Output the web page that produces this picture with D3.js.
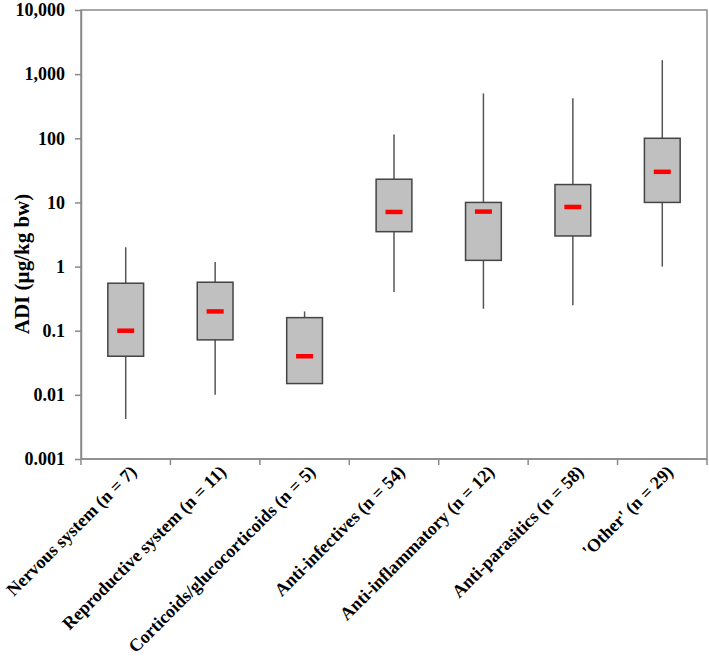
<!DOCTYPE html>
<html><head><meta charset="utf-8">
<script src="https://cdn.jsdelivr.net/npm/d3@7"></script>
<style>body{margin:0;background:#fff}</style>
</head><body>
<svg id="c" width="709" height="662"></svg>
<script>
const categories = ["Nervous system (n = 7)","Reproductive system (n = 11)","Corticoids/glucocorticoids (n = 5)","Anti-infectives (n = 54)","Anti-inflammatory (n = 12)","Anti-parasitics (n = 58)","'Other' (n = 29)"];
const whiskerLow  = [0.0042, 0.010, 0.015, 0.40, 0.22, 0.25, 1.0];
const q1          = [0.040, 0.072, 0.015, 3.5, 1.25, 3.0, 10];
const median      = [0.10, 0.20, 0.040, 7.1, 7.2, 8.5, 30];
const q3          = [0.55, 0.57, 0.16, 23, 10, 19, 100];
const whiskerHigh = [2.0, 1.18, 0.20, 115, 500, 420, 1650];
const yTickValues = [0.001, 0.01, 0.1, 1, 10, 100, 1000, 10000];
const yTickLabels = ["0.001","0.01","0.1","1","10","100","1,000","10,000"];
const yTitle = "ADI (µg/kg bw)";

const svg = d3.select("#c");
const L = 81, R = 707, T = 10, B = 459;
const font = "'Liberation Serif','Times New Roman',serif";
const axisCol = "#8a8a8a";

const y = d3.scaleLog().domain([0.001, 10000]).range([B, T]);
const x = d3.scaleBand().domain(categories).range([L, R]).padding(0);

// frame
svg.append("rect").attr("x", L).attr("y", T).attr("width", R - L).attr("height", B - T)
  .attr("fill", "none").attr("stroke", axisCol).attr("stroke-width", 1.5);

// y axis
const ya = svg.append("g").attr("transform", `translate(${L},0)`)
  .call(d3.axisLeft(y).tickValues(yTickValues).tickSize(6).tickSizeOuter(0)
    .tickFormat((d, i) => yTickLabels[i]));
ya.select(".domain").attr("stroke", axisCol).attr("stroke-width", 1.5);
ya.selectAll(".tick line").attr("stroke", axisCol).attr("stroke-width", 1.5);
ya.selectAll(".tick text").attr("font-family", font).attr("font-weight", "bold")
  .attr("font-size", 18).attr("fill", "#000").attr("x", -16);

// x axis
const xa = svg.append("g").attr("transform", `translate(0,${B})`);
xa.append("line").attr("x1", L).attr("x2", R).attr("stroke", axisCol).attr("stroke-width", 1.5);
const bounds = categories.map(c => x(c)).concat([R]);
xa.selectAll("line.tk").data(bounds).join("line").attr("class", "tk")
  .attr("x1", d => d).attr("x2", d => d).attr("y1", 0).attr("y2", 6)
  .attr("stroke", axisCol).attr("stroke-width", 1.5);
xa.selectAll("text").data(categories).join("text")
  .attr("transform", d => `translate(${x(d) + x.bandwidth() / 2 + 12},14) rotate(-45)`)
  .attr("text-anchor", "end").attr("font-family", font).attr("font-weight", "bold")
  .attr("font-size", 18).attr("fill", "#000").text(d => d);

// y title
svg.append("text").attr("transform", `translate(29,264) rotate(-90)`)
  .attr("text-anchor", "middle").attr("font-family", font).attr("font-weight", "bold")
  .attr("font-size", 21).text(yTitle);

// boxes
const bw = x.bandwidth() * 0.4;
const g = svg.append("g");
categories.forEach((c, i) => {
  const cx = x(c) + x.bandwidth() / 2;
  g.append("line").attr("x1", cx).attr("x2", cx).attr("y1", y(whiskerHigh[i])).attr("y2", y(whiskerLow[i]))
    .attr("stroke", "#555").attr("stroke-width", 1.5);
  g.append("rect").attr("x", cx - bw / 2).attr("width", bw)
    .attr("y", y(q3[i])).attr("height", y(q1[i]) - y(q3[i]))
    .attr("fill", "#c0c0c0").attr("stroke", "#444").attr("stroke-width", 1.5);
  g.append("rect").attr("x", cx - 8.5).attr("width", 17)
    .attr("y", y(median[i]) - 2.25).attr("height", 4.5).attr("fill", "#ff0000");
});
</script>
</body></html>
